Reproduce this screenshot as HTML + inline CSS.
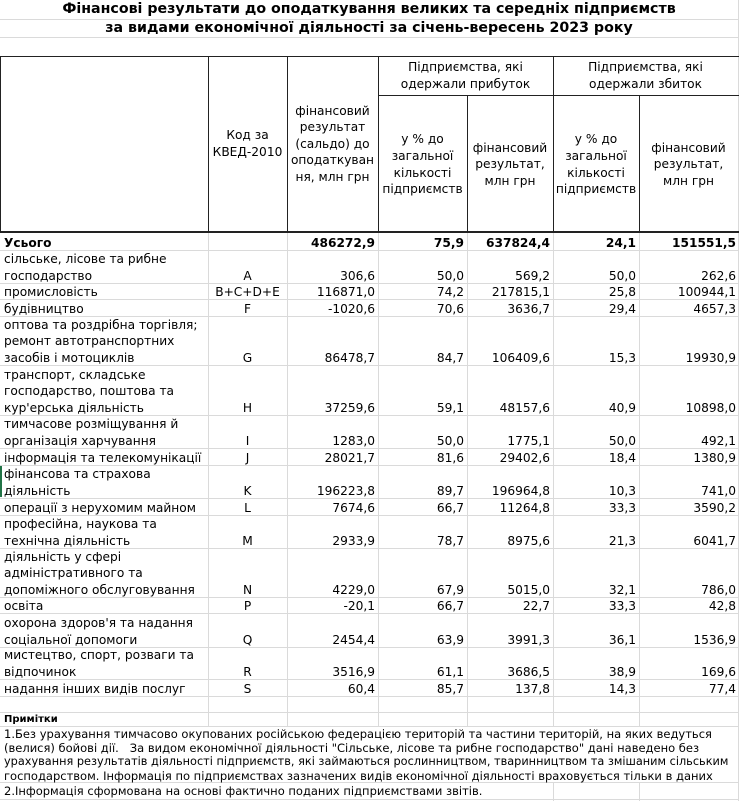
<!DOCTYPE html>
<html><head><meta charset="utf-8">
<style>
body{margin:0;background:#fff}
#c{position:relative;width:739px;height:801px;overflow:hidden;background:#fff;font-family:"DejaVu Sans","Liberation Sans",sans-serif;font-size:12.2px;color:#000}
.h{position:absolute;left:0;width:739px;height:1px;background:#dadada}
.v{position:absolute;width:1px;background:#dadada}
.hd{position:absolute;height:1px;background:#222}
.vd{position:absolute;width:1px;background:#222}
.r{position:absolute;left:0;width:739px}
.r>div{position:absolute;bottom:-1px;line-height:16.5px;white-space:nowrap}
.a{left:4px}
.b{left:208px;width:79px;text-align:center}
.c3{right:364px}
.c4{right:275px}
.c5{right:189px}
.c6{right:103px}
.c7{right:3px}
.bd{font-weight:bold}
.hc{position:absolute;display:flex;align-items:center;justify-content:center;text-align:center;line-height:16.6px;white-space:nowrap}
.t{position:absolute;left:0;width:738px;height:19px;line-height:19px;text-align:center;font-weight:bold;font-size:14.2px;white-space:nowrap}
.n{position:absolute;left:4px;white-space:nowrap;font-size:11.5px;line-height:14.2px}
</style></head><body>
<div id="c">
<!-- gray horizontal gridlines -->
<div class="h" style="top:19px"></div>
<div class="h" style="top:37px"></div>
<div class="h" style="top:250px"></div>
<div class="h" style="top:283px"></div>
<div class="h" style="top:299px"></div>
<div class="h" style="top:316px"></div>
<div class="h" style="top:365px"></div>
<div class="h" style="top:415px"></div>
<div class="h" style="top:448px"></div>
<div class="h" style="top:465px"></div>
<div class="h" style="top:498px"></div>
<div class="h" style="top:515px"></div>
<div class="h" style="top:548px"></div>
<div class="h" style="top:597px"></div>
<div class="h" style="top:613px"></div>
<div class="h" style="top:647px"></div>
<div class="h" style="top:679px"></div>
<div class="h" style="top:696px"></div>
<div class="h" style="top:712px"></div>
<div class="h" style="top:726px"></div>
<div class="h" style="top:782px"></div>
<div class="h" style="top:799px"></div>
<!-- gray verticals -->
<div class="v" style="left:208px;top:232px;height:494px"></div>
<div class="v" style="left:287px;top:232px;height:494px"></div>
<div class="v" style="left:378px;top:232px;height:494px"></div>
<div class="v" style="left:467px;top:232px;height:494px"></div>
<div class="v" style="left:553px;top:232px;height:494px"></div>
<div class="v" style="left:639px;top:232px;height:494px"></div>
<div class="v" style="left:553px;top:782px;height:19px"></div>
<div class="v" style="left:639px;top:782px;height:19px"></div>
<div class="v" style="left:738px;top:0;height:801px"></div>
<!-- dark borders -->
<div class="hd" style="left:0;width:739px;top:56px"></div>
<div class="hd" style="left:378px;width:361px;top:95px"></div>
<div class="hd" style="left:0;width:739px;top:231px;height:2px"></div>
<div class="vd" style="left:0;top:56px;height:176px"></div>
<div class="vd" style="left:208px;top:56px;height:176px"></div>
<div class="vd" style="left:287px;top:56px;height:176px"></div>
<div class="vd" style="left:378px;top:56px;height:176px"></div>
<div class="vd" style="left:553px;top:56px;height:176px"></div>
<div class="vd" style="left:467px;top:95px;height:137px"></div>
<div class="vd" style="left:639px;top:95px;height:137px"></div>
<!-- green selection mark -->
<div style="position:absolute;left:0;top:466px;width:2px;height:31px;background:#217346"></div>

<!-- titles -->
<div class="t" style="top:0">Фінансові результати до оподаткування великих та середніх підприємств</div>
<div class="t" style="top:19px">за видами економічної діяльності за січень-вересень 2023 року</div>

<!-- header -->
<div class="hc" style="left:208px;width:79px;top:57px;height:174px">Код за<br>КВЕД-2010</div>
<div class="hc" style="left:287px;width:91px;top:57px;height:174px">фінансовий<br>результат<br>(сальдо) до<br>оподаткуван<br>ня, млн грн</div>
<div class="hc" style="left:378px;width:175px;top:57px;height:38px">Підприємства, які<br>одержали прибуток</div>
<div class="hc" style="left:553px;width:185px;top:57px;height:38px">Підприємства, які<br>одержали збиток</div>
<div class="hc" style="left:378px;width:89px;top:98px;height:133px">у % до<br>загальної<br>кількості<br>підприємств</div>
<div class="hc" style="left:467px;width:86px;top:98px;height:133px">фінансовий<br>результат,<br>млн грн</div>
<div class="hc" style="left:553px;width:86px;top:98px;height:133px">у % до<br>загальної<br>кількості<br>підприємств</div>
<div class="hc" style="left:639px;width:99px;top:98px;height:133px">фінансовий<br>результат,<br>млн грн</div>

<!-- body rows -->
<div class="r bd" style="top:233px;height:17px"><div class="a">Усього</div><div class="c3">486272,9</div><div class="c4">75,9</div><div class="c5">637824,4</div><div class="c6">24,1</div><div class="c7">151551,5</div></div>
<div class="r" style="top:251px;height:32px"><div class="a">сільське, лісове та рибне<br>господарство</div><div class="b">A</div><div class="c3">306,6</div><div class="c4">50,0</div><div class="c5">569,2</div><div class="c6">50,0</div><div class="c7">262,6</div></div>
<div class="r" style="top:284px;height:15px"><div class="a">промисловість</div><div class="b">B+C+D+E</div><div class="c3">116871,0</div><div class="c4">74,2</div><div class="c5">217815,1</div><div class="c6">25,8</div><div class="c7">100944,1</div></div>
<div class="r" style="top:300px;height:16px"><div class="a">будівництво</div><div class="b">F</div><div class="c3">-1020,6</div><div class="c4">70,6</div><div class="c5">3636,7</div><div class="c6">29,4</div><div class="c7">4657,3</div></div>
<div class="r" style="top:317px;height:48px"><div class="a">оптова та роздрібна торгівля;<br>ремонт автотранспортних<br>засобів і мотоциклів</div><div class="b">G</div><div class="c3">86478,7</div><div class="c4">84,7</div><div class="c5">106409,6</div><div class="c6">15,3</div><div class="c7">19930,9</div></div>
<div class="r" style="top:366px;height:49px"><div class="a">транспорт, складське<br>господарство, поштова та<br>кур'ерська діяльність</div><div class="b">H</div><div class="c3">37259,6</div><div class="c4">59,1</div><div class="c5">48157,6</div><div class="c6">40,9</div><div class="c7">10898,0</div></div>
<div class="r" style="top:416px;height:32px"><div class="a">тимчасове розміщування й<br>організація харчування</div><div class="b">I</div><div class="c3">1283,0</div><div class="c4">50,0</div><div class="c5">1775,1</div><div class="c6">50,0</div><div class="c7">492,1</div></div>
<div class="r" style="top:449px;height:16px"><div class="a">інформація та телекомунікації</div><div class="b">J</div><div class="c3">28021,7</div><div class="c4">81,6</div><div class="c5">29402,6</div><div class="c6">18,4</div><div class="c7">1380,9</div></div>
<div class="r" style="top:466px;height:32px"><div class="a">фінансова та страхова<br>діяльність</div><div class="b">K</div><div class="c3">196223,8</div><div class="c4">89,7</div><div class="c5">196964,8</div><div class="c6">10,3</div><div class="c7">741,0</div></div>
<div class="r" style="top:499px;height:16px"><div class="a">операції з нерухомим майном</div><div class="b">L</div><div class="c3">7674,6</div><div class="c4">66,7</div><div class="c5">11264,8</div><div class="c6">33,3</div><div class="c7">3590,2</div></div>
<div class="r" style="top:516px;height:32px"><div class="a">професійна, наукова та<br>технічна діяльність</div><div class="b">M</div><div class="c3">2933,9</div><div class="c4">78,7</div><div class="c5">8975,6</div><div class="c6">21,3</div><div class="c7">6041,7</div></div>
<div class="r" style="top:549px;height:48px"><div class="a">діяльність у сфері<br>адміністративного та<br>допоміжного обслуговування</div><div class="b">N</div><div class="c3">4229,0</div><div class="c4">67,9</div><div class="c5">5015,0</div><div class="c6">32,1</div><div class="c7">786,0</div></div>
<div class="r" style="top:598px;height:15px"><div class="a">освіта</div><div class="b">P</div><div class="c3">-20,1</div><div class="c4">66,7</div><div class="c5">22,7</div><div class="c6">33,3</div><div class="c7">42,8</div></div>
<div class="r" style="top:614px;height:33px"><div class="a">охорона здоров'я та надання<br>соціальної допомоги</div><div class="b">Q</div><div class="c3">2454,4</div><div class="c4">63,9</div><div class="c5">3991,3</div><div class="c6">36,1</div><div class="c7">1536,9</div></div>
<div class="r" style="top:648px;height:31px"><div class="a">мистецтво, спорт, розваги та<br>відпочинок</div><div class="b">R</div><div class="c3">3516,9</div><div class="c4">61,1</div><div class="c5">3686,5</div><div class="c6">38,9</div><div class="c7">169,6</div></div>
<div class="r" style="top:680px;height:16px"><div class="a">надання інших видів послуг</div><div class="b">S</div><div class="c3">60,4</div><div class="c4">85,7</div><div class="c5">137,8</div><div class="c6">14,3</div><div class="c7">77,4</div></div>

<!-- notes -->
<div style="position:absolute;left:4px;top:713px;height:14px;line-height:14px;font-size:10px;font-weight:bold;white-space:nowrap">Примітки</div>
<div class="n" style="top:726.5px">1.Без урахування тимчасово окупованих російською федерацією територій та частини територій, на яких ведуться</div>
<div class="n" style="top:740.7px">(велися) бойові дії.&nbsp;&nbsp; За видом економічної діяльності "Сільське, лісове та рибне господарство" дані наведено без</div>
<div class="n" style="top:755px;font-size:11.3px">урахування результатів діяльності підприємств, які займаються рослинництвом, тваринництвом та змішаним сільським</div>
<div class="n" style="top:769.1px">господарством. Інформація по підприємствах зазначених видів економічної діяльності враховується тільки в даних</div>
<div class="n" style="top:784px;line-height:15px">2.Інформація сформована на основі фактично поданих підприємствами звітів.</div>
</div>
</body></html>
